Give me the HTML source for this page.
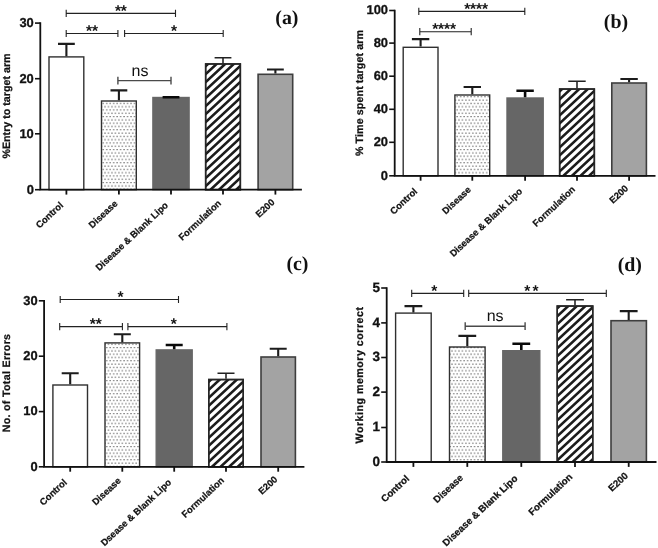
<!DOCTYPE html>
<html lang="en">
<head>
<meta charset="utf-8">
<title>Figure: behavioural test bar charts</title>
<style>
html,body{margin:0;padding:0;background:#fff;}
body{width:658px;height:548px;overflow:hidden;}
svg{display:block;}
text{font-family:"Liberation Sans", sans-serif;text-rendering:geometricPrecision;}
.tk{font-weight:bold;fill:#111;stroke:#111;stroke-width:0.3px;}
.xl{font-weight:bold;fill:#111;stroke:#111;stroke-width:0.25px;}
.yl{font-weight:bold;font-size:10.7px;fill:#111;stroke:#111;stroke-width:0.25px;}
.pl{font-family:"Liberation Serif", serif;font-weight:bold;font-size:19.9px;fill:#111;}
.st{fill:#111;}
</style>
</head>
<body>
<svg width="658" height="548" viewBox="0 0 658 548">
<defs>
<pattern id="dots" width="3.47" height="6.6" patternUnits="userSpaceOnUse">
<rect width="3.47" height="6.6" fill="#fff"/>
<rect x="0.4" y="0.6" width="1.0" height="1.0" fill="#161616"/>
<rect x="2.13" y="3.9" width="1.0" height="1.0" fill="#161616"/>
</pattern>
</defs>
<rect width="658" height="548" fill="#fff"/>

<g id="panel-a">
<rect x="49" y="56.9" width="34.8" height="132.8" fill="#fff" stroke="#303030" stroke-width="1.4"/>
<path d="M66.4 56.2 V43.9 M58 43.9 H74.8" stroke="#1c1c1c" stroke-width="2.1" fill="none"/>
<rect x="101.5" y="101" width="34.8" height="88.7" fill="url(#dots)" stroke="#303030" stroke-width="1.4"/>
<path d="M118.9 100.3 V90.4 M110.5 90.4 H127.3" stroke="#1c1c1c" stroke-width="2.1" fill="none"/>
<rect x="152.9" y="97.5" width="36.2" height="92.2" fill="#666" stroke="#666" stroke-width="1.4"/>
<path d="M171 96.8 V97.2 M162.6 97.2 H179.4" stroke="#0a0a0a" stroke-width="2.6" fill="none"/>
<rect x="205.65" y="63.95" width="34.7" height="125.75" fill="#fff" stroke="#262626" stroke-width="1.5"/>
<clipPath id="clip-a"><rect x="205.65" y="63.95" width="34.7" height="125.75"/></clipPath>
<path clip-path="url(#clip-a)" d="M203.65 68.07 L242.35 31.98 M203.65 76.07 L242.35 39.98 M203.65 84.07 L242.35 47.98 M203.65 92.07 L242.35 55.98 M203.65 100.07 L242.35 63.98 M203.65 108.07 L242.35 71.98 M203.65 116.07 L242.35 79.98 M203.65 124.07 L242.35 87.98 M203.65 132.07 L242.35 95.98 M203.65 140.07 L242.35 103.98 M203.65 148.07 L242.35 111.98 M203.65 156.07 L242.35 119.98 M203.65 164.07 L242.35 127.98 M203.65 172.07 L242.35 135.98 M203.65 180.07 L242.35 143.98 M203.65 188.07 L242.35 151.98 M203.65 196.07 L242.35 159.98 M203.65 204.07 L242.35 167.98 M203.65 212.07 L242.35 175.98 M203.65 220.07 L242.35 183.98" stroke="#1c1c1c" stroke-width="2.6" fill="none"/>
<rect x="205.65" y="63.95" width="34.7" height="125.75" fill="none" stroke="#262626" stroke-width="1.5"/>
<path d="M223 63.2 V57.7 M214.6 57.7 H231.4" stroke="#222" stroke-width="1.55" fill="none"/>
<rect x="258.1" y="74.3" width="34.6" height="115.4" fill="#a3a3a3" stroke="#3e3e3e" stroke-width="1.6"/>
<path d="M275.4 73.5 V69.5 M267 69.5 H283.8" stroke="#1c1c1c" stroke-width="2.1" fill="none"/>
<path d="M40.3 22.3 V189.7 H301.9" stroke="#111" stroke-width="1.8" fill="none"/>
<path d="M35 189.7 H40.3" stroke="#111" stroke-width="1.6"/>
<text class="tk" font-size="12.9" x="33.8" y="193.5" text-anchor="end">0</text>
<path d="M35 133.8 H40.3" stroke="#111" stroke-width="1.6"/>
<text class="tk" font-size="12.9" x="33.8" y="137.6" text-anchor="end">10</text>
<path d="M35 78.7 H40.3" stroke="#111" stroke-width="1.6"/>
<text class="tk" font-size="12.9" x="33.8" y="82.5" text-anchor="end">20</text>
<path d="M35 23.1 H40.3" stroke="#111" stroke-width="1.6"/>
<text class="tk" font-size="12.9" x="33.8" y="26.9" text-anchor="end">30</text>
<path d="M66.4 189.7 V194.6" stroke="#111" stroke-width="1.8"/>
<text class="xl" font-size="9.4" text-anchor="end" transform="translate(63.8 206) rotate(-43.2)">Control</text>
<path d="M118.9 189.7 V194.6" stroke="#111" stroke-width="1.8"/>
<text class="xl" font-size="9.4" text-anchor="end" transform="translate(118.2 204.4) rotate(-43.2)">Disease</text>
<path d="M171 189.7 V194.6" stroke="#111" stroke-width="1.8"/>
<text class="xl" font-size="9.4" text-anchor="end" transform="translate(168.8 206) rotate(-43.2)">Disease &amp; Blank Lipo</text>
<path d="M223 189.7 V194.6" stroke="#111" stroke-width="1.8"/>
<text class="xl" font-size="9.4" text-anchor="end" transform="translate(221.8 204) rotate(-43.2)">Formulation</text>
<path d="M275.4 189.7 V194.6" stroke="#111" stroke-width="1.8"/>
<text class="xl" font-size="9.4" text-anchor="end" transform="translate(275.2 203) rotate(-43.2)">E200</text>
<text class="yl" text-anchor="middle" transform="translate(10.2 106) rotate(-90)" letter-spacing="0">%Entry to target arm</text>
<path d="M66.2 13.4 H175.5 M66.2 9.8 V17 M175.5 9.8 V17" stroke="#222" stroke-width="1.1" fill="none"/>
<text class="st" x="120.85" y="16" font-size="15.5" font-weight="bold" text-anchor="middle" letter-spacing="-0.1">**</text>
<path d="M66.2 33.5 H117.9 M66.2 29.9 V37.1 M117.9 29.9 V37.1" stroke="#222" stroke-width="1.1" fill="none"/>
<text class="st" x="92.05" y="36.1" font-size="15.5" font-weight="bold" text-anchor="middle" letter-spacing="-0.1">**</text>
<path d="M124.6 33.5 H223.2 M124.6 29.9 V37.1 M223.2 29.9 V37.1" stroke="#222" stroke-width="1.1" fill="none"/>
<text class="st" x="173.9" y="36.1" font-size="15.5" font-weight="bold" text-anchor="middle" letter-spacing="-0.1">*</text>
<path d="M117.9 80.6 H171 M117.9 76.7 V84.5 M171 76.7 V84.5" stroke="#4a4a4a" stroke-width="1.4" fill="none"/>
<text class="st" x="139.95" y="75.7" font-size="16" text-anchor="middle">ns</text>
<text class="pl" x="275.3" y="23.8">(a)</text>
</g>
<g id="panel-b">
<rect x="403.2" y="47.3" width="34.8" height="128.5" fill="#fff" stroke="#303030" stroke-width="1.4"/>
<path d="M420.6 46.6 V39.1 M411.9 39.1 H429.3" stroke="#1c1c1c" stroke-width="2.1" fill="none"/>
<rect x="454.9" y="95" width="34.8" height="80.8" fill="url(#dots)" stroke="#303030" stroke-width="1.4"/>
<path d="M472.3 94.3 V87 M463.6 87 H481" stroke="#1c1c1c" stroke-width="2.1" fill="none"/>
<rect x="507" y="98" width="36.2" height="77.8" fill="#666" stroke="#666" stroke-width="1.4"/>
<path d="M525.1 97.3 V90.8 M516.4 90.8 H533.8" stroke="#0a0a0a" stroke-width="2.6" fill="none"/>
<rect x="559.65" y="89.05" width="34.7" height="86.75" fill="#fff" stroke="#262626" stroke-width="1.5"/>
<clipPath id="clip-b"><rect x="559.65" y="89.05" width="34.7" height="86.75"/></clipPath>
<path clip-path="url(#clip-b)" d="M557.65 93.17 L596.35 57.08 M557.65 101.17 L596.35 65.08 M557.65 109.17 L596.35 73.08 M557.65 117.17 L596.35 81.08 M557.65 125.17 L596.35 89.08 M557.65 133.17 L596.35 97.08 M557.65 141.17 L596.35 105.08 M557.65 149.17 L596.35 113.08 M557.65 157.17 L596.35 121.08 M557.65 165.17 L596.35 129.08 M557.65 173.17 L596.35 137.08 M557.65 181.17 L596.35 145.08 M557.65 189.17 L596.35 153.08 M557.65 197.17 L596.35 161.08 M557.65 205.17 L596.35 169.08" stroke="#1c1c1c" stroke-width="2.6" fill="none"/>
<rect x="559.65" y="89.05" width="34.7" height="86.75" fill="none" stroke="#262626" stroke-width="1.5"/>
<path d="M577 88.3 V81.2 M568.3 81.2 H585.7" stroke="#222" stroke-width="1.55" fill="none"/>
<rect x="611.8" y="83" width="34.6" height="92.8" fill="#a3a3a3" stroke="#3e3e3e" stroke-width="1.6"/>
<path d="M629.1 82.2 V79 M620.4 79 H637.8" stroke="#1c1c1c" stroke-width="2.1" fill="none"/>
<path d="M394.7 9.7 V175.8 H655.5" stroke="#111" stroke-width="1.8" fill="none"/>
<path d="M389.2 175.8 H394.7" stroke="#111" stroke-width="1.6"/>
<text class="tk" font-size="12.9" x="388" y="179.6" text-anchor="end">0</text>
<path d="M389.2 142.3 H394.7" stroke="#111" stroke-width="1.6"/>
<text class="tk" font-size="12.9" x="388" y="146.1" text-anchor="end">20</text>
<path d="M389.2 109.3 H394.7" stroke="#111" stroke-width="1.6"/>
<text class="tk" font-size="12.9" x="388" y="113.1" text-anchor="end">40</text>
<path d="M389.2 76.2 H394.7" stroke="#111" stroke-width="1.6"/>
<text class="tk" font-size="12.9" x="388" y="80" text-anchor="end">60</text>
<path d="M389.2 43.1 H394.7" stroke="#111" stroke-width="1.6"/>
<text class="tk" font-size="12.9" x="388" y="46.9" text-anchor="end">80</text>
<path d="M389.2 10.5 H394.7" stroke="#111" stroke-width="1.6"/>
<text class="tk" font-size="12.9" x="388" y="14.3" text-anchor="end">100</text>
<path d="M420.6 175.8 V180.7" stroke="#111" stroke-width="1.8"/>
<text class="xl" font-size="9.4" text-anchor="end" transform="translate(418 192.1) rotate(-43.2)">Control</text>
<path d="M472.3 175.8 V180.7" stroke="#111" stroke-width="1.8"/>
<text class="xl" font-size="9.4" text-anchor="end" transform="translate(471.6 190.5) rotate(-43.2)">Disease</text>
<path d="M525.1 175.8 V180.7" stroke="#111" stroke-width="1.8"/>
<text class="xl" font-size="9.4" text-anchor="end" transform="translate(522.9 192.1) rotate(-43.2)">Disease &amp; Blank Lipo</text>
<path d="M577 175.8 V180.7" stroke="#111" stroke-width="1.8"/>
<text class="xl" font-size="9.4" text-anchor="end" transform="translate(575.8 190.1) rotate(-43.2)">Formulation</text>
<path d="M629.1 175.8 V180.7" stroke="#111" stroke-width="1.8"/>
<text class="xl" font-size="9.4" text-anchor="end" transform="translate(628.9 189.1) rotate(-43.2)">E200</text>
<text class="yl" text-anchor="middle" transform="translate(363.3 93) rotate(-90)" letter-spacing="0.1">% Time spent target arm</text>
<path d="M418.8 11.4 H524.8 M418.8 7.8 V15 M524.8 7.8 V15" stroke="#222" stroke-width="1.1" fill="none"/>
<text class="st" x="476" y="14" font-size="15.5" font-weight="bold" text-anchor="middle" letter-spacing="-0.1">****</text>
<path d="M419.8 31.7 H471.2 M419.8 28.1 V35.3 M471.2 28.1 V35.3" stroke="#222" stroke-width="1.1" fill="none"/>
<text class="st" x="444" y="34.3" font-size="15.5" font-weight="bold" text-anchor="middle" letter-spacing="-0.1">****</text>
<text class="pl" x="603.8" y="28.2">(b)</text>
</g>
<g id="panel-c">
<rect x="52.9" y="385" width="34.6" height="81.8" fill="#fff" stroke="#303030" stroke-width="1.4"/>
<path d="M70.2 384.3 V373.3 M61.7 373.3 H78.7" stroke="#1c1c1c" stroke-width="2.1" fill="none"/>
<rect x="105" y="342.9" width="34.6" height="123.9" fill="url(#dots)" stroke="#303030" stroke-width="1.4"/>
<path d="M122.3 342.2 V334.2 M113.8 334.2 H130.8" stroke="#1c1c1c" stroke-width="2.1" fill="none"/>
<rect x="156.2" y="349.9" width="36" height="116.9" fill="#666" stroke="#666" stroke-width="1.4"/>
<path d="M174.2 349.2 V345 M165.7 345 H182.7" stroke="#0a0a0a" stroke-width="2.6" fill="none"/>
<rect x="208.75" y="379.55" width="34.5" height="87.25" fill="#fff" stroke="#262626" stroke-width="1.5"/>
<clipPath id="clip-c"><rect x="208.75" y="379.55" width="34.5" height="87.25"/></clipPath>
<path clip-path="url(#clip-c)" d="M206.75 383.67 L245.25 347.76 M206.75 391.67 L245.25 355.76 M206.75 399.67 L245.25 363.76 M206.75 407.67 L245.25 371.76 M206.75 415.67 L245.25 379.76 M206.75 423.67 L245.25 387.76 M206.75 431.67 L245.25 395.76 M206.75 439.67 L245.25 403.76 M206.75 447.67 L245.25 411.76 M206.75 455.67 L245.25 419.76 M206.75 463.67 L245.25 427.76 M206.75 471.67 L245.25 435.76 M206.75 479.67 L245.25 443.76 M206.75 487.67 L245.25 451.76 M206.75 495.67 L245.25 459.76" stroke="#1c1c1c" stroke-width="2.6" fill="none"/>
<rect x="208.75" y="379.55" width="34.5" height="87.25" fill="none" stroke="#262626" stroke-width="1.5"/>
<path d="M226 378.8 V373.3 M217.5 373.3 H234.5" stroke="#222" stroke-width="1.55" fill="none"/>
<rect x="261" y="357" width="34.4" height="109.8" fill="#a3a3a3" stroke="#3e3e3e" stroke-width="1.6"/>
<path d="M278.2 356.2 V348.7 M269.7 348.7 H286.7" stroke="#1c1c1c" stroke-width="2.1" fill="none"/>
<path d="M44.1 300 V466.8 H304.4" stroke="#111" stroke-width="1.8" fill="none"/>
<path d="M38.8 466.8 H44.1" stroke="#111" stroke-width="1.6"/>
<text class="tk" font-size="12.9" x="37.6" y="470.6" text-anchor="end">0</text>
<path d="M38.8 411.6 H44.1" stroke="#111" stroke-width="1.6"/>
<text class="tk" font-size="12.9" x="37.6" y="415.4" text-anchor="end">10</text>
<path d="M38.8 356.2 H44.1" stroke="#111" stroke-width="1.6"/>
<text class="tk" font-size="12.9" x="37.6" y="360" text-anchor="end">20</text>
<path d="M38.8 300.8 H44.1" stroke="#111" stroke-width="1.6"/>
<text class="tk" font-size="12.9" x="37.6" y="304.6" text-anchor="end">30</text>
<path d="M70.2 466.8 V471.7" stroke="#111" stroke-width="1.8"/>
<text class="xl" font-size="9.4" text-anchor="end" transform="translate(67.6 483.1) rotate(-43.2)">Control</text>
<path d="M122.3 466.8 V471.7" stroke="#111" stroke-width="1.8"/>
<text class="xl" font-size="9.4" text-anchor="end" transform="translate(121.6 481.5) rotate(-43.2)">Disease</text>
<path d="M174.2 466.8 V471.7" stroke="#111" stroke-width="1.8"/>
<text class="xl" font-size="9.4" text-anchor="end" transform="translate(172 483.1) rotate(-43.2)">Dsease &amp; Blank Lipo</text>
<path d="M226 466.8 V471.7" stroke="#111" stroke-width="1.8"/>
<text class="xl" font-size="9.4" text-anchor="end" transform="translate(224.8 481.1) rotate(-43.2)">Formulation</text>
<path d="M278.2 466.8 V471.7" stroke="#111" stroke-width="1.8"/>
<text class="xl" font-size="9.4" text-anchor="end" transform="translate(278 480.1) rotate(-43.2)">E200</text>
<text class="yl" text-anchor="middle" transform="translate(9.8 383) rotate(-90)" letter-spacing="0.3">No. of Total Errors</text>
<path d="M60.2 299.5 H178.5 M60.2 295.9 V303.1 M178.5 295.9 V303.1" stroke="#222" stroke-width="1.1" fill="none"/>
<text class="st" x="120.35" y="302.1" font-size="15.5" font-weight="bold" text-anchor="middle" letter-spacing="-0.1">*</text>
<path d="M59.7 326.6 H122.4 M59.7 323 V330.2 M122.4 323 V330.2" stroke="#222" stroke-width="1.1" fill="none"/>
<text class="st" x="95.65" y="329.2" font-size="15.5" font-weight="bold" text-anchor="middle" letter-spacing="-0.1">**</text>
<path d="M127.9 326.6 H226.9 M127.9 323 V330.2 M226.9 323 V330.2" stroke="#222" stroke-width="1.1" fill="none"/>
<text class="st" x="173.6" y="329.2" font-size="15.5" font-weight="bold" text-anchor="middle" letter-spacing="-0.1">*</text>
<text class="pl" x="286.4" y="269.6">(c)</text>
</g>
<g id="panel-d">
<rect x="395.6" y="313.1" width="35.6" height="148.9" fill="#fff" stroke="#303030" stroke-width="1.4"/>
<path d="M413.4 312.4 V306.1 M404.5 306.1 H422.3" stroke="#1c1c1c" stroke-width="2.1" fill="none"/>
<rect x="449.5" y="347" width="35.6" height="115" fill="url(#dots)" stroke="#303030" stroke-width="1.4"/>
<path d="M467.3 346.3 V335.9 M458.4 335.9 H476.2" stroke="#1c1c1c" stroke-width="2.1" fill="none"/>
<rect x="502.8" y="350.7" width="37" height="111.3" fill="#666" stroke="#666" stroke-width="1.4"/>
<path d="M521.3 350 V343.7 M512.4 343.7 H530.2" stroke="#0a0a0a" stroke-width="2.6" fill="none"/>
<rect x="557.25" y="306.05" width="35.5" height="155.95" fill="#fff" stroke="#262626" stroke-width="1.5"/>
<clipPath id="clip-d"><rect x="557.25" y="306.05" width="35.5" height="155.95"/></clipPath>
<path clip-path="url(#clip-d)" d="M555.25 310.17 L594.75 273.33 M555.25 318.17 L594.75 281.33 M555.25 326.17 L594.75 289.33 M555.25 334.17 L594.75 297.33 M555.25 342.17 L594.75 305.33 M555.25 350.17 L594.75 313.33 M555.25 358.17 L594.75 321.33 M555.25 366.17 L594.75 329.33 M555.25 374.17 L594.75 337.33 M555.25 382.17 L594.75 345.33 M555.25 390.17 L594.75 353.33 M555.25 398.17 L594.75 361.33 M555.25 406.17 L594.75 369.33 M555.25 414.17 L594.75 377.33 M555.25 422.17 L594.75 385.33 M555.25 430.17 L594.75 393.33 M555.25 438.17 L594.75 401.33 M555.25 446.17 L594.75 409.33 M555.25 454.17 L594.75 417.33 M555.25 462.17 L594.75 425.33 M555.25 470.17 L594.75 433.33 M555.25 478.17 L594.75 441.33 M555.25 486.17 L594.75 449.33 M555.25 494.17 L594.75 457.33" stroke="#1c1c1c" stroke-width="2.6" fill="none"/>
<rect x="557.25" y="306.05" width="35.5" height="155.95" fill="none" stroke="#262626" stroke-width="1.5"/>
<path d="M575 305.3 V299.8 M566.1 299.8 H583.9" stroke="#222" stroke-width="1.55" fill="none"/>
<rect x="611" y="320.7" width="35.4" height="141.3" fill="#a3a3a3" stroke="#3e3e3e" stroke-width="1.6"/>
<path d="M628.7 319.9 V311.1 M619.8 311.1 H637.6" stroke="#1c1c1c" stroke-width="2.1" fill="none"/>
<path d="M386.7 287.2 V462 H656.5" stroke="#111" stroke-width="1.8" fill="none"/>
<path d="M381.2 462 H386.7" stroke="#111" stroke-width="1.6"/>
<text class="tk" font-size="13.5" x="380" y="465.8" text-anchor="end">0</text>
<path d="M381.2 427.5 H386.7" stroke="#111" stroke-width="1.6"/>
<text class="tk" font-size="13.5" x="380" y="431.3" text-anchor="end">1</text>
<path d="M381.2 392.1 H386.7" stroke="#111" stroke-width="1.6"/>
<text class="tk" font-size="13.5" x="380" y="395.9" text-anchor="end">2</text>
<path d="M381.2 357.5 H386.7" stroke="#111" stroke-width="1.6"/>
<text class="tk" font-size="13.5" x="380" y="361.3" text-anchor="end">3</text>
<path d="M381.2 322.9 H386.7" stroke="#111" stroke-width="1.6"/>
<text class="tk" font-size="13.5" x="380" y="326.7" text-anchor="end">4</text>
<path d="M381.2 288 H386.7" stroke="#111" stroke-width="1.6"/>
<text class="tk" font-size="13.5" x="380" y="291.8" text-anchor="end">5</text>
<path d="M413.4 462 V466.9" stroke="#111" stroke-width="1.8"/>
<text class="xl" font-size="9.7" text-anchor="end" transform="translate(409.9 479.3) rotate(-43.2)">Control</text>
<path d="M467.3 462 V466.9" stroke="#111" stroke-width="1.8"/>
<text class="xl" font-size="9.7" text-anchor="end" transform="translate(463.8 478.5) rotate(-43.2)">Disease</text>
<path d="M521.3 462 V466.9" stroke="#111" stroke-width="1.8"/>
<text class="xl" font-size="9.7" text-anchor="end" transform="translate(518.2 479.3) rotate(-43.2)">Disease &amp; Blank Lipo</text>
<path d="M575 462 V466.9" stroke="#111" stroke-width="1.8"/>
<text class="xl" font-size="9.7" text-anchor="end" transform="translate(573 477.6) rotate(-43.2)">Formulation</text>
<path d="M628.7 462 V466.9" stroke="#111" stroke-width="1.8"/>
<text class="xl" font-size="9.7" text-anchor="end" transform="translate(628.6 476.6) rotate(-43.2)">E200</text>
<text class="yl" text-anchor="middle" transform="translate(363 375) rotate(-90)" letter-spacing="0.48">Working memory correct</text>
<path d="M411.7 293.4 H463.7 M411.7 289.8 V297 M463.7 289.8 V297" stroke="#222" stroke-width="1.1" fill="none"/>
<text class="st" x="434.2" y="296" font-size="15.5" font-weight="bold" text-anchor="middle" letter-spacing="-0.1">*</text>
<path d="M468.7 293.4 H606.3 M468.7 289.8 V297 M606.3 289.8 V297" stroke="#222" stroke-width="1.1" fill="none"/>
<text class="st" x="532.6" y="296" font-size="15.5" font-weight="bold" text-anchor="middle" letter-spacing="2.2">**</text>
<path d="M465.2 326.2 H525.1 M465.2 322.3 V330.1 M525.1 322.3 V330.1" stroke="#4a4a4a" stroke-width="1.4" fill="none"/>
<text class="st" x="495.15" y="321.3" font-size="16" text-anchor="middle">ns</text>
<text class="pl" x="617.7" y="270.5">(d)</text>
</g>
</svg>
</body>
</html>
